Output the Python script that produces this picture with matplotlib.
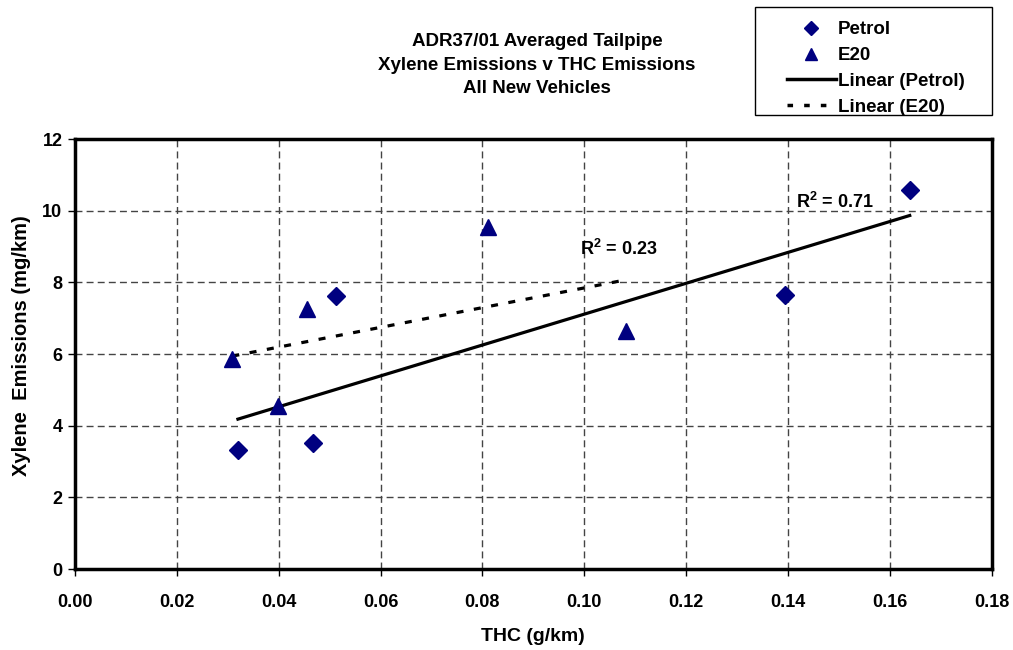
import numpy as np
import matplotlib
matplotlib.use('Agg')
import matplotlib.pyplot as plt
from matplotlib.lines import Line2D
from matplotlib.patches import Rectangle

plt.rcParams['font.family'] = ['Liberation Sans', 'DejaVu Sans']
plt.rcParams['font.weight'] = 'bold'
plt.rcParams['mathtext.fontset'] = 'custom'
plt.rcParams['mathtext.rm'] = 'Liberation Sans:bold'
plt.rcParams['mathtext.bf'] = 'Liberation Sans:bold'

petrol_x = [0.0320, 0.0467, 0.0512, 0.1395, 0.1639]
petrol_y = [3.32, 3.52, 7.62, 7.65, 10.58]
e20_x = [0.0309, 0.0398, 0.0455, 0.0811, 0.1082]
e20_y = [5.86, 4.56, 7.26, 9.55, 6.64]

navy = '#000080'
W, H = 1013, 650

fig = plt.figure(figsize=(10.13, 6.5), dpi=100)
ax = fig.add_axes([0.074, 0.1246, 0.905, 0.6615])

ax.plot(petrol_x, petrol_y, 'D', color=navy, ms=9, ls='none', zorder=5)
ax.plot(e20_x, e20_y, '^', color=navy, ms=12, ls='none', zorder=5)

def fit(x, y):
    x = np.array(x); y = np.array(y)
    m, b = np.polyfit(x, y, 1)
    r2 = np.corrcoef(x, y)[0, 1] ** 2
    xs = np.array([x.min(), x.max()])
    return xs, m * xs + b, r2

px, py, pr2 = fit(petrol_x, petrol_y)
ex, ey, er2 = fit(e20_x, e20_y)
ax.plot(px, py, color='black', lw=2.3, zorder=4)
ax.plot(ex, ey, color='black', lw=2.3, dashes=(2.2, 3.3), zorder=4)

ax.text(0.1415, 10.07, 'R$^{2}$ = %.2f' % pr2, fontsize=13, fontweight='bold')
ax.text(0.0991, 8.76, 'R$^{2}$ = %.2f' % er2, fontsize=13, fontweight='bold')

ax.set_xlim(0, 0.18)
ax.set_ylim(0, 12)
ax.set_xticks(np.arange(0, 0.181, 0.02))
ax.set_yticks(np.arange(0, 13, 2))
ax.set_xticklabels(['%.2f' % v for v in np.arange(0, 0.181, 0.02)], fontsize=13, fontweight='bold')
ax.set_yticklabels([str(v) for v in range(0, 13, 2)], fontsize=13, fontweight='bold')
ax.tick_params(direction='out', length=5, width=1, pad=13, axis='x')
ax.tick_params(direction='out', length=5, width=1, pad=4, axis='y')
ax.grid(True, color='#444444', lw=1, dashes=(5, 3))
for s in ax.spines.values():
    s.set_linewidth(2.5)

ax.set_xlabel('THC (g/km)', fontsize=14, fontweight='bold', labelpad=12)
ax.set_ylabel('Xylene  Emissions (mg/km)', fontsize=14.5, fontweight='bold')
ax.yaxis.set_label_coords(-0.048, 0.519)

fig.text(0.53, 0.90, 'ADR37/01 Averaged Tailpipe\nXylene Emissions v THC Emissions\nAll New Vehicles',
         ha='center', va='center', fontsize=13.5, fontweight='bold', linespacing=1.5)

# legend box drawn by hand, legend itself without frame
fig.patches.append(Rectangle((755 / W, 1 - 115 / H), 237 / W, 108 / H, transform=fig.transFigure,
                             fill=False, lw=1, ec='black'))
handles = [Line2D([], [], marker='D', color=navy, ls='none', ms=7),
           Line2D([], [], marker='^', color=navy, ls='none', ms=9),
           Line2D([], [], color='black', lw=2.5),
           Line2D([], [], color='black', lw=2.5, dashes=(1.6, 3.2))]
leg = fig.legend(handles, ['Petrol', 'E20', 'Linear (Petrol)', 'Linear (E20)'],
                 loc='upper left', bbox_to_anchor=(787 / W, 1 - 21 / H), fontsize=13.5,
                 frameon=False, handlelength=2.6, handletextpad=0.1, labelspacing=0.47,
                 borderpad=0, borderaxespad=0)
for t in leg.get_texts():
    t.set_fontweight('bold')

fig.savefig('out.png', dpi=100)
